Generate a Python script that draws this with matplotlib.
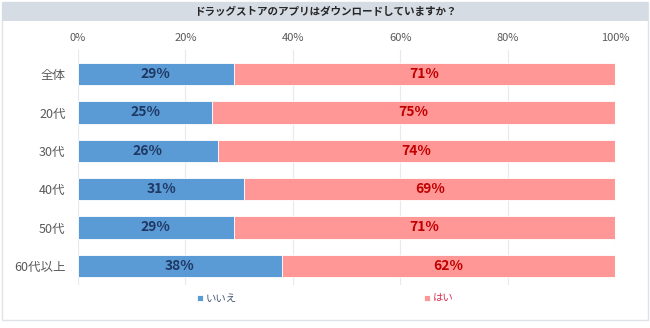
import matplotlib
matplotlib.use("Agg")
import matplotlib.pyplot as plt
from matplotlib.patches import Rectangle

plt.rcParams['font.family'] = ['Noto Sans CJK JP', 'DejaVu Sans']

#%% data
title = 'ドラッグストアのアプリはダウンロードしていますか？'
groups = ['全体', '20代', '30代', '40代', '50代', '60代以上']
no_vals = [29, 25, 26, 31, 29, 38]
yes_vals = [71, 75, 74, 69, 71, 62]
series_names = ['いいえ', 'はい']
xticks = [0, 20, 40, 60, 80, 100]

c_no = '#5b9bd5'
c_yes = '#ff9797'

#%% figure
W, H = 650, 328
fig = plt.figure(figsize=(W/100, H/100), dpi=100)
fig.patch.set_facecolor('white')

# outer frame and title band
fig.patches.append(Rectangle((1.5/W, 1 - 320/H), 646.5/W, 318.5/H, transform=fig.transFigure,
                             fill=False, edgecolor='#dfe3e8', linewidth=1))
fig.patches.append(Rectangle((2/W, 1 - 21/H), 646/W, 19/H, transform=fig.transFigure,
                             facecolor='#d6dce4', edgecolor='none'))
fig.text(0.5, 1 - 11.5/H, title, ha='center', va='center', fontsize=7.6,
         fontweight='bold', color='#262626')

ax = fig.add_axes([78/W, 1 - 285/H, (615 - 78)/W, (285 - 50)/H])

y = list(range(len(groups)))
b1 = ax.barh(y, no_vals, height=0.58, color=c_no, edgecolor='white', linewidth=0.6,
             label=series_names[0], zorder=3)
b2 = ax.barh(y, yes_vals, left=no_vals, height=0.58, color=c_yes, edgecolor='white',
             linewidth=0.6, label=series_names[1], zorder=3)

for i in y:
    ax.text(no_vals[i] / 2, i, f'{no_vals[i]}%', ha='center', va='center',
            fontsize=10, fontweight='bold', color='#1f3864', zorder=4)
    ax.text(no_vals[i] + yes_vals[i] / 2, i, f'{yes_vals[i]}%', ha='center', va='center',
            fontsize=10, fontweight='bold', color='#c00000', zorder=4)

ax.set_xlim(0, 100)
ax.set_ylim(5.5, -0.63)
ax.set_xticks(xticks)
ax.set_xticklabels([f'{t}%' for t in xticks])
ax.xaxis.tick_top()
ax.tick_params(axis='x', length=0, labelsize=8, labelcolor='#595959', pad=5)
ax.set_yticks(y)
ax.set_yticklabels(groups)
ax.tick_params(axis='y', length=0, labelsize=9, labelcolor='#595959', pad=9)
ax.grid(axis='x', color='#e6e9ef', linewidth=0.8, zorder=0)
for s in ax.spines.values():
    s.set_visible(False)

leg = fig.legend(handles=[b1, b2], loc='center', bbox_to_anchor=(0.5, 1 - 299/H),
                 ncol=2, frameon=False, fontsize=7.5, handlelength=0.55, handleheight=0.55,
                 handletextpad=0.25, columnspacing=18)
leg.get_texts()[0].set_color('#4a5a78')
leg.get_texts()[1].set_color('#d6304e')

fig.savefig('out.png', dpi=100)
